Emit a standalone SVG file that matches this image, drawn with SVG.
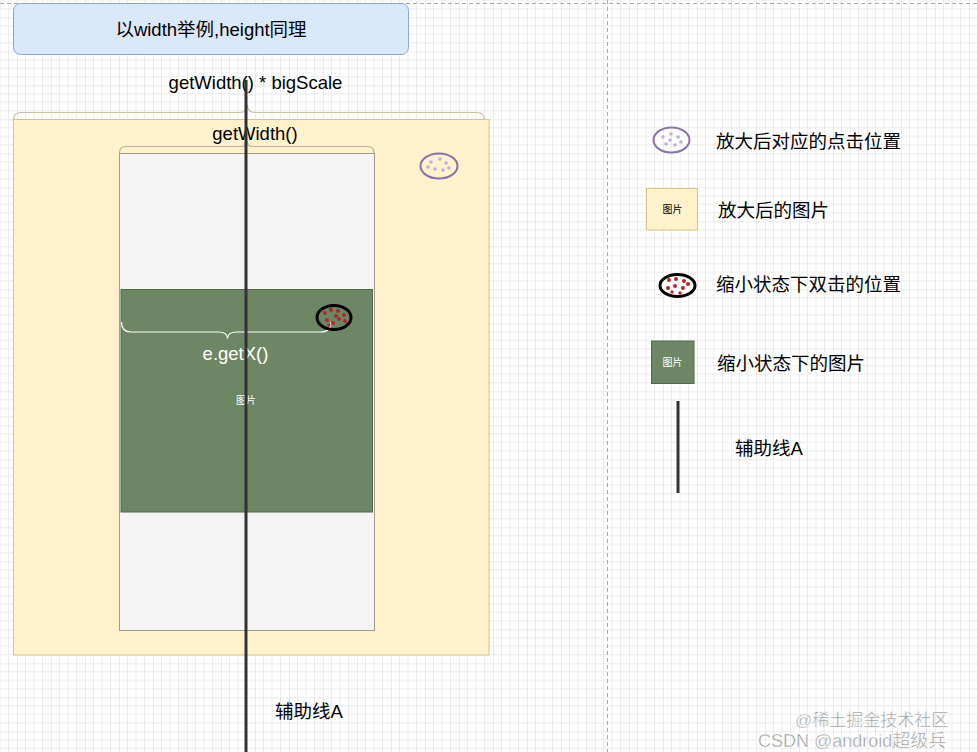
<svg xmlns="http://www.w3.org/2000/svg" width="977" height="752" viewBox="0 0 977 752">
<defs>
<pattern id="grid" patternUnits="userSpaceOnUse" x="17" y="17.3" width="34" height="34">
<path d="M8.5 0V34M17 0V34M25.5 0V34M0 8.5H34M0 17H34M0 25.5H34" stroke="#ececec" stroke-width="1" fill="none"/>
<path d="M0 0V34M0 0H34" stroke="#d9d9d9" stroke-width="1" fill="none"/>
</pattern>
<style>
text{font-family:"Liberation Sans","Noto Sans CJK SC",sans-serif;fill:#000;}
.lbl{font-size:18.5px;}
.small{font-size:10px;}
.dotp{fill:#c3b1dc;}
.dotr{fill:#b0272b;}
.brace{fill:none;stroke-width:1.2;}
</style>
</defs>
<rect width="977" height="752" fill="#fff"/>
<rect width="977" height="752" fill="url(#grid)"/>
<path d="M0 3.5H977M607.5 0V752" stroke="#aaaaaa" stroke-width="1" stroke-dasharray="4 3" fill="none"/>

<g id="title">
<rect x="13.5" y="3.5" width="395" height="51" rx="7" fill="#dae8fc" stroke="#8ea6cf"/>
<text x="211" y="35.5" font-size="18.5" text-anchor="middle">以width举例,height同理</text>
</g>

<g id="bigscale-label">
<text class="lbl" x="255.5" y="88.5" text-anchor="middle">getWidth() * bigScale</text>
<path class="brace" stroke="#c7c1a6" d="M13.5 120 Q13.5 112.5 21 112.5 L240 112.5 Q247.5 112.5 247.5 105 Q247.5 112.5 255 112.5 L477 112.5 Q484.5 112.5 484.5 120"/>
</g>

<g id="big-image">
<rect x="13.5" y="119.5" width="475.5" height="535.5" fill="#fff2cc" stroke="#d6c48a"/>
<text class="lbl" x="255" y="140" text-anchor="middle">getWidth()</text>
<path class="brace" stroke="#b9b49f" d="M119.5 153 Q119.5 146.5 126 146.5 L241 146.5 Q247 146.5 247 141 Q247 146.5 253 146.5 L367.5 146.5 Q374 146.5 374 153"/>
<ellipse cx="439" cy="166" rx="18.5" ry="12.5" fill="none" stroke="#8c72a8" stroke-width="2"/>
<g class="dotp"><circle cx="431" cy="162" r="1.8"/><circle cx="440" cy="159" r="1.8"/><circle cx="446" cy="163" r="1.8"/><circle cx="435" cy="169" r="1.8"/><circle cx="443" cy="170" r="1.8"/><circle cx="449" cy="168" r="1.8"/><circle cx="428" cy="167" r="1.8"/></g>
</g>

<g id="view">
<rect x="119.5" y="153.5" width="255" height="477" fill="#f5f5f5" stroke="#a09c8c"/>
</g>

<g id="small-image">
<rect x="121" y="289.5" width="251.5" height="222.5" fill="#6d8764" stroke="#4f6a47"/>
<text class="small" x="246" y="404" text-anchor="middle" style="fill:#fff">图片</text>
<path class="brace" stroke="#ffffff" d="M121.5 322 Q121.5 332 131 332 L218 332 Q227.5 332 227.5 338.5 Q227.5 332 237 332 L321 332 Q331 332 331 322"/>
<text class="lbl" x="235.5" y="360" text-anchor="middle" style="fill:#fff">e.getX()</text>
<ellipse cx="334" cy="317.5" rx="17" ry="12" fill="none" stroke="#000" stroke-width="3"/>
<g class="dotr"><circle cx="325" cy="313" r="2"/><circle cx="331" cy="310" r="2"/><circle cx="338" cy="311" r="2"/><circle cx="344" cy="315" r="2"/><circle cx="327" cy="320" r="2"/><circle cx="333" cy="323" r="2"/><circle cx="339" cy="319" r="2"/><circle cx="345" cy="321" r="2"/><circle cx="336" cy="316" r="2"/><circle cx="329" cy="325" r="1.7"/></g>
</g>

<g id="connectors">
<line x1="246" y1="80" x2="246" y2="752" stroke="#333" stroke-width="3"/>
</g>

<g id="guide-label">
<text class="lbl" x="275" y="718">辅助线A</text>
</g>

<g id="legend-click">
<ellipse cx="671.5" cy="140" rx="18" ry="12.5" fill="none" stroke="#8c72a8" stroke-width="2"/>
<g class="dotp"><circle cx="663" cy="137" r="1.8"/><circle cx="671" cy="134" r="1.8"/><circle cx="678" cy="137" r="1.8"/><circle cx="666" cy="144" r="1.8"/><circle cx="675" cy="145" r="1.8"/><circle cx="681" cy="142" r="1.8"/><circle cx="670" cy="140" r="1.8"/></g>
<text class="lbl" x="716" y="147.5">放大后对应的点击位置</text>
</g>

<g id="legend-big">
<rect x="646.5" y="188.5" width="51" height="41.5" fill="#fff2cc" stroke="#d6c48a"/>
<text class="small" x="672.5" y="213" text-anchor="middle">图片</text>
<text class="lbl" x="718" y="217">放大后的图片</text>
</g>

<g id="legend-double">
<ellipse cx="677.5" cy="285.5" rx="17.5" ry="11" fill="#fff" stroke="#000" stroke-width="3"/>
<g class="dotr"><circle cx="669" cy="280" r="2"/><circle cx="676" cy="279" r="2"/><circle cx="684" cy="281" r="2"/><circle cx="668" cy="288" r="2"/><circle cx="675" cy="286" r="2"/><circle cx="683" cy="288" r="2"/><circle cx="688" cy="284" r="2"/><circle cx="672" cy="292" r="1.7"/><circle cx="680" cy="293" r="1.7"/></g>
<text class="lbl" x="716" y="291">缩小状态下双击的位置</text>
</g>

<g id="legend-small">
<rect x="651.5" y="341" width="42.5" height="42.5" fill="#6d8764" stroke="#4f6a47"/>
<text class="small" x="672.5" y="366" text-anchor="middle" style="fill:#fff">图片</text>
<text class="lbl" x="717" y="369.5">缩小状态下的图片</text>
</g>

<g id="legend-guide">
<line x1="678" y1="401" x2="678" y2="493" stroke="#333" stroke-width="3"/>
<text class="lbl" x="735" y="454.5">辅助线A</text>
</g>

<g id="watermark">
<text x="795" y="726" font-size="17" style="fill:#9a9a9a" stroke="#fff" stroke-width="0.4">@稀土掘金技术社区</text>
<text x="758" y="747" font-size="18" style="fill:#9a9a9a" stroke="#fff" stroke-width="0.4">CSDN @android超级兵</text>
</g>
</svg>
